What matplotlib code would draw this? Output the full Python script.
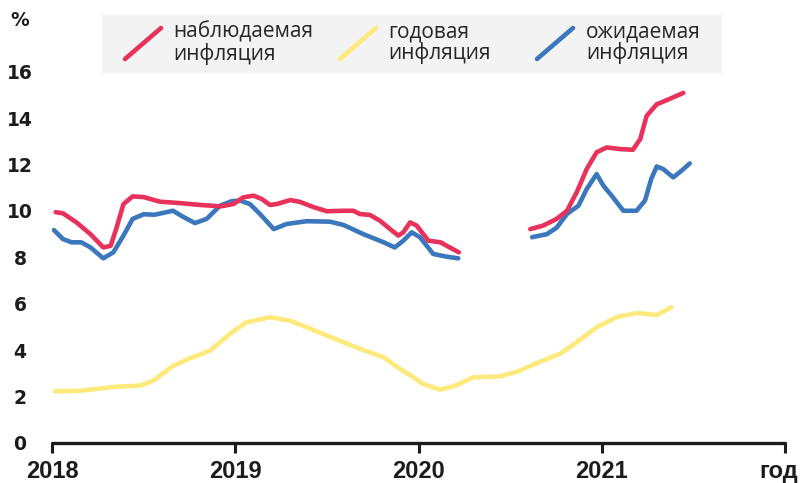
import numpy as np
from matplotlib import pyplot as plt
from matplotlib.patches import Rectangle
from matplotlib.lines import Line2D
from matplotlib.transforms import ScaledTranslation

W, H = 801, 483

# observed inflation (two pieces, gap in mid 2020)
obs1_x = [2018.02, 2018.06, 2018.135, 2018.21, 2018.28, 2018.32, 2018.35, 2018.39, 2018.44,
          2018.50, 2018.59, 2018.70, 2018.81, 2018.92, 2018.99, 2019.044, 2019.10, 2019.144,
          2019.19, 2019.226, 2019.30, 2019.35, 2019.43, 2019.50, 2019.59, 2019.644, 2019.68,
          2019.735, 2019.79, 2019.845, 2019.89, 2019.917, 2019.954, 2019.99, 2020.054, 2020.12,
          2020.17, 2020.22]
obs1_y = [9.95, 9.9, 9.5, 9.0, 8.43, 8.5, 9.22, 10.3, 10.63,
          10.6, 10.4, 10.34, 10.26, 10.2, 10.3, 10.59, 10.66, 10.52,
          10.26, 10.3, 10.47, 10.4, 10.16, 9.99, 10.01, 10.01, 9.87,
          9.83, 9.58, 9.22, 8.94, 9.08, 9.51, 9.37, 8.72, 8.65,
          8.43, 8.22]
obs2_x = [2020.61, 2020.68, 2020.754, 2020.81, 2020.863, 2020.918, 2020.972, 2021.027, 2021.10,
          2021.17, 2021.21, 2021.245, 2021.30, 2021.37, 2021.445]
obs2_y = [9.22, 9.37, 9.66, 10.01, 10.8, 11.81, 12.53, 12.74, 12.67,
          12.64, 13.1, 14.1, 14.6, 14.83, 15.09]

# expected inflation
exp1_x = [2018.01, 2018.06, 2018.107, 2018.16, 2018.21, 2018.28, 2018.335, 2018.39, 2018.44,
          2018.50, 2018.56, 2018.66, 2018.72, 2018.78, 2018.844, 2018.917, 2018.98, 2019.026,
          2019.08, 2019.135, 2019.21, 2019.28, 2019.39, 2019.517, 2019.59, 2019.70, 2019.81,
          2019.87, 2019.917, 2019.963, 2020.008, 2020.08, 2020.154, 2020.217]
exp1_y = [9.18, 8.79, 8.65, 8.65, 8.43, 7.96, 8.22, 8.94, 9.66,
          9.86, 9.84, 10.01, 9.73, 9.48, 9.66, 10.23, 10.42, 10.45,
          10.3, 9.87, 9.22, 9.44, 9.56, 9.54, 9.4, 9.0, 8.65,
          8.43, 8.72, 9.08, 8.87, 8.15, 8.03, 7.96]
exp2_x = [2020.62, 2020.70, 2020.754, 2020.81, 2020.873, 2020.918, 2020.972, 2021.009, 2021.054,
          2021.118, 2021.19, 2021.236, 2021.27, 2021.30, 2021.335, 2021.39, 2021.436, 2021.48]
exp2_y = [8.87, 9.0, 9.28, 9.87, 10.23, 10.95, 11.59, 11.09, 10.66,
          10.01, 10.01, 10.45, 11.38, 11.92, 11.81, 11.45, 11.74, 12.05]

# annual inflation
ann_x = [2018.016, 2018.153, 2018.353, 2018.48, 2018.553, 2018.662, 2018.753, 2018.862, 2018.97,
         2019.06, 2019.19, 2019.30, 2019.48, 2019.66, 2019.81, 2019.90, 2019.96, 2020.026,
         2020.117, 2020.19, 2020.30, 2020.445, 2020.536, 2020.663, 2020.772, 2020.863, 2020.972,
         2021.08, 2021.19, 2021.30, 2021.38]
ann_y = [2.23, 2.25, 2.43, 2.47, 2.69, 3.33, 3.65, 3.98, 4.7,
         5.2, 5.42, 5.27, 4.7, 4.12, 3.69, 3.19, 2.9, 2.54,
         2.3, 2.44, 2.83, 2.87, 3.07, 3.5, 3.84, 4.34, 4.99,
         5.42, 5.6, 5.52, 5.85]

x_ticks = [2018, 2019, 2020, 2021, 2022]
x_labels = ['2018', '2019', '2020', '2021', 'год']
y_ticks = [0, 2, 4, 6, 8, 10, 12, 14, 16]
legend_labels = ['наблюдаемая\nинфляция', 'годовая\nинфляция', 'ожидаемая\nинфляция']

RED = '#e8325c'
YELLOW = '#fee97c'
BLUE = '#3b77bd'
INK = '#1c1c1c'


def fx(p):
    return p / W


def fy(p):
    return 1 - p / H


fig = plt.figure(figsize=(W / 100, H / 100), dpi=100)
ax = fig.add_axes([fx(52), fy(443), (785 - 52) / W, 17 * 23.2 / H])

lw = 3.3
kw = dict(lw=lw, solid_capstyle='round', solid_joinstyle='round')
ax.plot(ann_x, ann_y, color=YELLOW, **kw)
ax.plot(exp1_x, exp1_y, color=BLUE, **kw)
ax.plot(exp2_x, exp2_y, color=BLUE, **kw)
ax.plot(obs1_x, obs1_y, color=RED, **kw)
ax.plot(obs2_x, obs2_y, color=RED, **kw)

ax.set_xlim(2018, 2022)
ax.set_ylim(0, 17)
for s in ['top', 'right', 'left']:
    ax.spines[s].set_visible(False)
ax.spines['bottom'].set_linewidth(2.4)
ax.spines['bottom'].set_color(INK)
ax.spines['bottom'].set_capstyle('round')

ax.set_xticks(x_ticks)
ax.set_xticklabels(x_labels, fontfamily=['Liberation Sans Narrow', 'Liberation Sans'],
                   fontweight='bold', fontsize=17, color=INK)
ax.tick_params(axis='x', direction='out', length=7, width=2.2, color=INK, pad=5)
# "год" sits to the right of its tick
last = ax.get_xticklabels()[-1]
last.set_transform(last.get_transform() + ScaledTranslation(-0.06, 0, fig.dpi_scale_trans))
last.set_horizontalalignment('center')

ax.set_yticks(y_ticks)
ax.set_yticklabels([str(v) for v in y_ticks], fontfamily='DejaVu Sans', fontweight='bold',
                   fontsize=13.5, color=INK)
ax.tick_params(axis='y', length=0, pad=23)
for t in ax.get_yticklabels():
    t.set_horizontalalignment('center')

fig.text(fx(20), fy(20), '%', ha='center', va='center', fontfamily='DejaVu Sans',
         fontweight='bold', fontsize=13.5, color=INK)

# legend box
fig.patches.append(Rectangle((fx(102), fy(72)), (721 - 102) / W, (72 - 15) / H,
                             transform=fig.transFigure, color='#f3f3f3', zorder=0))
icons = [(125, RED, 173), (340, YELLOW, 388), (537, BLUE, 586)]
for (ix, col, tx), lab in zip(icons, legend_labels):
    fig.lines.append(Line2D([fx(ix), fx(ix + 36)], [fy(59), fy(28)], transform=fig.transFigure,
                            color=col, lw=3.3, solid_capstyle='round'))
    fig.text(fx(tx), fy(43), lab, ha='left', va='center', fontfamily='Open Sans',
             fontsize=15, color='#262626', linespacing=0.98)

fig.savefig('out.png', dpi=100)
